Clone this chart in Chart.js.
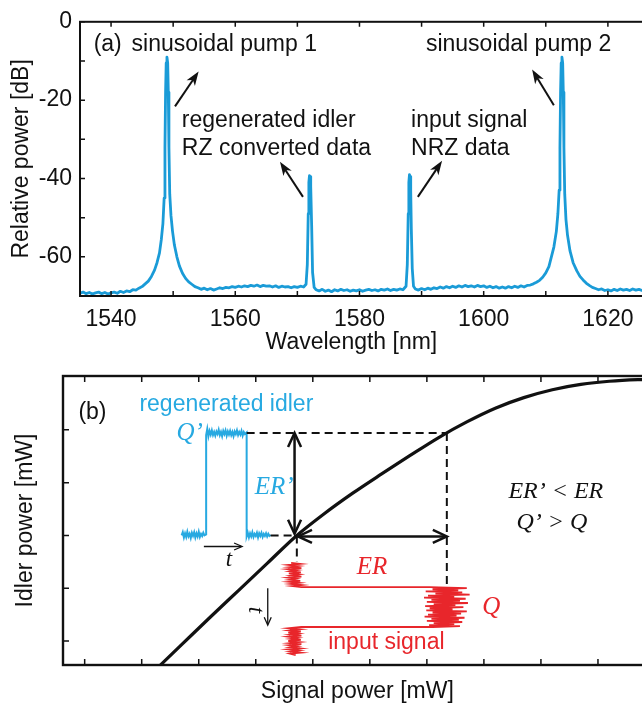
<!DOCTYPE html>
<html><head><meta charset="utf-8">
<script src="https://cdn.jsdelivr.net/npm/chart.js@4"></script>
<style>
html,body{margin:0;padding:0;background:#fff;overflow:hidden;width:642px;height:709px;position:relative;}
canvas{position:absolute;left:0;}
</style></head><body>
<canvas id="ca" width="680" height="360" style="top:0;width:680px;height:360px"></canvas>
<canvas id="cb" width="655" height="349" style="top:360px;width:655px;height:349px"></canvas>
<script>
// ---------- Panel (a) data: optical spectrum ----------
const wavelength = [1535.0,1535.5,1536.0,1536.5,1537.0,1537.5,1538.0,1538.5,1539.0,1539.5,1540.0,1540.5,1541.0,1541.5,1542.0,1542.5,1543.0,1543.5,1544.0,1544.5,1545.0,1545.5,1546.0,1546.5,1547.0,1547.4,1547.8,1548.1,1548.35,1548.55,1548.68,1548.78,1548.88,1549.0,1549.12,1549.22,1549.32,1549.45,1549.65,1549.9,1550.2,1550.6,1551.0,1551.5,1552.0,1552.5,1553.0,1553.5,1554.0,1554.5,1555.0,1555.5,1556.0,1556.5,1557.0,1557.5,1558.0,1558.5,1559.0,1559.5,1560.0,1560.5,1561.0,1561.5,1562.0,1562.5,1563.0,1563.5,1564.0,1564.5,1565.0,1565.5,1566.0,1566.5,1567.0,1567.5,1568.0,1568.5,1569.0,1569.5,1570.0,1570.5,1571.0,1571.4,1571.6,1571.75,1571.85,1571.95,1572.05,1572.15,1572.3,1572.45,1572.7,1573.0,1573.5,1574.0,1574.5,1575.0,1575.5,1576.0,1576.5,1577.0,1577.5,1578.0,1578.5,1579.0,1579.5,1580.0,1580.5,1581.0,1581.5,1582.0,1582.5,1583.0,1583.5,1584.0,1584.5,1585.0,1585.5,1586.0,1586.5,1587.0,1587.5,1587.7,1587.85,1587.95,1588.05,1588.15,1588.25,1588.35,1588.5,1588.7,1589.0,1589.5,1590.0,1590.5,1591.0,1591.5,1592.0,1592.5,1593.0,1593.5,1594.0,1594.5,1595.0,1595.5,1596.0,1596.5,1597.0,1597.5,1598.0,1598.5,1599.0,1599.5,1600.0,1600.5,1601.0,1601.5,1602.0,1602.5,1603.0,1603.5,1604.0,1604.5,1605.0,1605.5,1606.0,1606.5,1607.0,1607.5,1608.0,1608.5,1609.0,1609.5,1610.0,1610.5,1610.9,1611.3,1611.7,1611.95,1612.15,1612.28,1612.38,1612.48,1612.6,1612.72,1612.82,1612.92,1613.05,1613.25,1613.5,1613.9,1614.4,1615.0,1615.5,1616.0,1616.5,1617.0,1617.5,1618.0,1618.5,1619.0,1619.5,1620.0,1620.5,1621.0,1621.5,1622.0,1622.5,1623.0,1623.5,1624.0,1624.5,1625.0,1625.5,1626.0,1626.5];
const relPower = [-69.3,-69.0,-69.4,-69.1,-69.5,-69.2,-69.0,-69.4,-69.1,-69.5,-69.2,-69.0,-69.3,-68.8,-69.1,-68.7,-68.9,-68.4,-68.5,-68.0,-67.6,-66.9,-66.2,-65.0,-63.4,-61.5,-59.0,-55.5,-51.5,-45.0,-32.0,-18.0,-10.5,-9.0,-10.5,-18.0,-32.0,-44.0,-49.5,-53.5,-57.0,-60.0,-62.3,-64.2,-65.5,-66.4,-67.0,-67.6,-67.9,-68.3,-68.0,-68.4,-68.1,-68.5,-68.2,-67.9,-68.1,-67.8,-67.9,-67.6,-67.8,-67.5,-67.7,-67.4,-67.6,-67.3,-67.5,-67.2,-67.6,-67.3,-67.5,-67.4,-67.7,-67.4,-67.8,-67.5,-67.7,-67.6,-67.9,-67.6,-67.8,-67.5,-67.7,-67.0,-62.0,-49.0,-41.0,-39.3,-39.5,-42.0,-52.0,-64.0,-67.8,-68.4,-68.7,-68.3,-68.8,-68.5,-68.9,-68.4,-68.7,-68.3,-68.6,-68.4,-68.8,-68.5,-68.7,-68.4,-68.8,-68.5,-68.3,-68.6,-68.4,-68.7,-68.3,-68.5,-68.2,-68.6,-68.3,-68.5,-68.2,-68.4,-67.5,-62.0,-49.0,-41.0,-39.0,-39.5,-43.0,-53.0,-63.0,-67.5,-68.2,-68.5,-68.1,-68.4,-68.0,-68.3,-67.9,-68.1,-67.7,-68.0,-67.6,-67.9,-67.5,-67.8,-67.4,-67.7,-67.3,-67.6,-67.4,-67.7,-67.3,-67.6,-67.4,-67.8,-67.5,-67.9,-67.6,-68.0,-67.7,-68.0,-67.6,-67.9,-67.5,-67.8,-67.4,-67.7,-67.3,-67.2,-66.9,-66.5,-66.0,-65.2,-64.1,-62.5,-60.0,-57.5,-53.5,-49.0,-43.0,-32.0,-18.0,-10.5,-9.0,-10.5,-18.0,-32.0,-44.0,-50.5,-54.5,-58.5,-61.5,-63.6,-65.0,-65.9,-66.7,-67.3,-67.8,-68.1,-68.4,-68.2,-68.6,-68.4,-68.7,-68.3,-68.6,-68.2,-68.5,-68.3,-68.6,-68.2,-68.5,-68.3,-68.6,-68.4,-68.5];
const aXTicks = [1540,1550,1560,1570,1580,1590,1600,1610,1620,1630];
const aXLabels = [1540,1560,1580,1600,1620];
const aYTicks = [0,-10,-20,-30,-40,-50,-60,-70];
const aYLabels = [0,-20,-40,-60];

// ---------- Panel (b) data: transfer function (arbitrary units) ----------
const bXTicks = [0,1,2,3,4,5,6,7,8,9];
const bYTicks = [0,1,2,3,4];
const signalPower = [1.2,1.7,2.2,2.7,3.2,3.7,4.2,4.7,5.2,5.7,6.2,6.7,7.2,7.7,8.2,8.7,9.2,9.7,10.2];
const idlerPower  = [-0.59,-0.07,0.45,0.96,1.47,1.98,2.41,2.80,3.16,3.51,3.85,4.15,4.41,4.61,4.76,4.86,4.92,4.95,4.96];
// regenerated idler trace (time along x, power along y)
const idlerTraceX = [1.70,1.72,1.74,1.76,1.78,1.80,1.82,1.84,1.86,1.88,1.90,1.92,1.94,1.96,1.98,2.00,2.02,2.04,2.06,2.08,2.10,2.13,2.13,2.15,2.17,2.19,2.21,2.23,2.25,2.27,2.29,2.31,2.33,2.35,2.37,2.39,2.41,2.43,2.45,2.47,2.49,2.51,2.53,2.55,2.57,2.59,2.61,2.63,2.65,2.67,2.69,2.71,2.73,2.75,2.77,2.79,2.81,2.84,2.84,2.86,2.88,2.90,2.92,2.94,2.96,2.98,3.00,3.02,3.04,3.06,3.08,3.10,3.12,3.14,3.16,3.18,3.20,3.22,3.24,3.26];
const idlerTraceY = [2.00,2.06,1.96,2.04,1.97,2.07,1.98,2.03,1.95,2.05,1.99,2.06,1.96,2.04,1.98,2.07,1.97,2.03,1.99,2.05,2.00,2.02,3.90,4.02,3.88,3.98,3.91,3.99,3.90,3.96,3.89,3.97,3.92,4.00,3.90,3.96,3.88,3.98,3.92,3.99,3.89,3.97,3.91,3.98,3.90,3.96,3.88,3.97,3.92,3.99,3.90,3.96,3.91,3.98,3.89,3.96,3.92,3.95,1.98,2.05,1.96,2.04,1.98,2.06,1.97,2.03,1.99,2.05,1.96,2.04,1.99,2.05,1.97,2.03,1.99,2.04,1.98,2.03,1.99,2.01];
// input signal trace (power along x, time along y downward)
const inputTraceX = [3.62,3.78,3.58,3.74,3.60,3.80,3.57,3.72,3.61,3.79,3.58,3.75,3.63,3.80,3.57,3.70,3.60,3.78,3.59,3.76,3.62,3.80,3.64,3.80,6.05,6.70,6.10,6.55,5.98,6.62,6.15,6.75,6.02,6.48,5.95,6.68,6.08,6.58,6.00,6.72,6.12,6.50,5.97,6.64,6.05,6.45,5.99,6.70,6.10,6.60,6.02,6.52,5.96,6.66,6.08,6.56,6.00,6.62,6.12,6.48,6.04,6.58,6.10,3.80,3.58,3.77,3.60,3.79,3.57,3.74,3.61,3.80,3.58,3.73,3.62,3.79,3.57,3.76,3.60,3.80,3.59,3.72,3.61,3.78,3.58,3.75,3.62,3.79,3.60,3.70];
const inputTraceY = [1.48,1.46,1.44,1.42,1.40,1.38,1.36,1.34,1.32,1.30,1.28,1.26,1.24,1.22,1.20,1.18,1.16,1.14,1.12,1.10,1.08,1.06,1.04,1.02,1.02,1.00,0.98,0.96,0.94,0.92,0.90,0.88,0.86,0.84,0.82,0.80,0.78,0.76,0.74,0.72,0.70,0.68,0.66,0.64,0.62,0.60,0.58,0.56,0.54,0.52,0.50,0.48,0.46,0.44,0.42,0.40,0.38,0.36,0.34,0.32,0.30,0.28,0.265,0.265,0.24,0.22,0.20,0.18,0.16,0.14,0.12,0.10,0.08,0.06,0.04,0.02,0.00,-0.02,-0.04,-0.06,-0.08,-0.10,-0.12,-0.14,-0.16,-0.18,-0.20,-0.22,-0.24,-0.27];
// guide lines (dashed)
const guideHighX = [2.84,6.35], guideHighY = [3.94,3.94];
const guideLowX  = [3.26,3.72], guideLowY  = [2.00,2.00];
const guideVHighX = [6.35,6.35], guideVHighY = [3.94,1.02];
const guideVLowX  = [3.72,3.72], guideVLowY  = [2.00,1.50];

const SANS = '"Liberation Sans", Arial, Helvetica, sans-serif';
const SERIF = '"Liberation Serif", "Times New Roman", serif';
const pts = (xs, ys) => xs.map((v, i) => ({x: v, y: ys[i]}));

function framePlugin(id, xt, yt, lw, len) {
  return { id: id, afterDatasetsDraw(chart) {
    const ctx = chart.ctx, a = chart.chartArea, xs = chart.scales.x, ys = chart.scales.y;
    ctx.save();
    ctx.strokeStyle = '#111';
    ctx.lineWidth = 1.5;
    ctx.beginPath();
    xt.forEach(v => { const p = xs.getPixelForValue(v); ctx.moveTo(p, a.bottom); ctx.lineTo(p, a.bottom - len); ctx.moveTo(p, a.top); ctx.lineTo(p, a.top + len); });
    yt.forEach(v => { const p = ys.getPixelForValue(v); ctx.moveTo(a.left, p); ctx.lineTo(a.left + len, p); ctx.moveTo(a.right, p); ctx.lineTo(a.right - len, p); });
    ctx.stroke();
    ctx.lineWidth = lw;
    ctx.strokeRect(a.left, a.top, a.right - a.left, a.bottom - a.top);
    ctx.restore();
  }};
}

function drawArrow(ctx, x1, y1, x2, y2, st, both) {
  const ang = Math.atan2(y2 - y1, x2 - x1);
  const head = (tx, ty, a) => {
    const c = Math.cos(a), s = Math.sin(a);
    const bx = tx - st.len * c, by = ty - st.len * s;
    if (st.filled) {
      const nx = tx - st.len * 0.72 * c, ny = ty - st.len * 0.72 * s;
      ctx.beginPath();
      ctx.moveTo(tx, ty);
      ctx.lineTo(bx - st.wid / 2 * s, by + st.wid / 2 * c);
      ctx.lineTo(nx, ny);
      ctx.lineTo(bx + st.wid / 2 * s, by - st.wid / 2 * c);
      ctx.closePath();
      ctx.fill();
    } else {
      ctx.beginPath();
      ctx.moveTo(bx - st.wid / 2 * s, by + st.wid / 2 * c);
      ctx.lineTo(tx, ty);
      ctx.lineTo(bx + st.wid / 2 * s, by - st.wid / 2 * c);
      ctx.stroke();
    }
  };
  ctx.lineWidth = st.lw;
  ctx.beginPath();
  const back = st.filled ? st.len * 0.6 : 1;
  const sx = both ? x1 + back * Math.cos(ang) : x1, sy = both ? y1 + back * Math.sin(ang) : y1;
  ctx.moveTo(sx, sy);
  ctx.lineTo(x2 - back * Math.cos(ang), y2 - back * Math.sin(ang));
  ctx.stroke();
  head(x2, y2, ang);
  if (both) head(x1, y1, ang + Math.PI);
}

function notesPlugin(id, texts, arrows) {
  return { id: id, afterDraw(chart) {
    const ctx = chart.ctx, xs = chart.scales.x, ys = chart.scales.y;
    ctx.save();
    ctx.lineJoin = 'miter';
    arrows.forEach(a => {
      ctx.strokeStyle = a.color; ctx.fillStyle = a.color;
      drawArrow(ctx, xs.getPixelForValue(a.x1), ys.getPixelForValue(a.y1), xs.getPixelForValue(a.x2), ys.getPixelForValue(a.y2), a.style, a.both);
    });
    texts.forEach(t => {
      ctx.save();
      ctx.font = t.font; ctx.fillStyle = t.color;
      ctx.textAlign = t.align || 'left'; ctx.textBaseline = 'middle';
      ctx.translate(xs.getPixelForValue(t.x) + (t.dx || 0), ys.getPixelForValue(t.y) + (t.dy || 0));
      if (t.rot) ctx.rotate(t.rot);
      ctx.fillText(t.text, 0, 0);
      ctx.restore();
    });
    ctx.restore();
  }};
}

// ---------- Chart (a) ----------
const headA = {filled: true, len: 14, wid: 10, lw: 2};
const textsA = [
  {text: '(a)', x: 1537.2, y: -5.8, font: '23px ' + SANS, color: '#111'},
  {text: 'sinusoidal pump 1', x: 1543.3, y: -5.8, font: '23px ' + SANS, color: '#111'},
  {text: 'sinusoidal pump 2', x: 1590.7, y: -5.8, font: '23px ' + SANS, color: '#111'},
  {text: 'regenerated idler', x: 1551.4, y: -25.3, font: '23px ' + SANS, color: '#111'},
  {text: 'RZ converted data', x: 1551.4, y: -32.3, font: '23px ' + SANS, color: '#111'},
  {text: 'input signal', x: 1588.3, y: -25.3, font: '23px ' + SANS, color: '#111'},
  {text: 'NRZ data', x: 1588.3, y: -32.3, font: '23px ' + SANS, color: '#111'},
  {text: 'Wavelength [nm]', x: 1578.7, y: -70, dy: 47, align: 'center', font: '23px ' + SANS, color: '#111'}
];
const arrowsA = [
  {x1: 1550.3, y1: -21.6, x2: 1554.1, y2: -12.7, style: headA, color: '#111'},
  {x1: 1611.3, y1: -21.3, x2: 1607.8, y2: -12.2, style: headA, color: '#111'},
  {x1: 1570.9, y1: -44.7, x2: 1567.2, y2: -35.7, style: headA, color: '#111'},
  {x1: 1589.4, y1: -44.7, x2: 1593.3, y2: -35.5, style: headA, color: '#111'}
];

new Chart(document.getElementById('ca'), {
  type: 'scatter',
  data: { datasets: [{
    data: pts(wavelength, relPower), showLine: true, borderColor: '#1a9bd7', borderWidth: 2.8,
    borderJoinStyle: 'round', borderCapStyle: 'round',
    pointRadius: 0, tension: 0, fill: false
  }]},
  options: {
    responsive: false, animation: false, devicePixelRatio: 1,
    layout: {padding: {top: 14, left: 0, right: 0, bottom: 0}},
    plugins: {legend: {display: false}, tooltip: {enabled: false}},
    scales: {
      x: {
        type: 'linear', min: 1535, max: 1630,
        grid: {display: false, drawTicks: false}, border: {display: false},
        afterBuildTicks: s => { s.ticks = aXTicks.map(v => ({value: v})); },
        afterFit: s => { s.height = 64; },
        ticks: {autoSkip: false, maxRotation: 0, padding: 10, color: '#111',
          font: {family: SANS, size: 23}, callback: v => aXLabels.includes(v) ? String(v) : ''}
      },
      y: {
        type: 'linear', min: -70, max: 0,
        grid: {display: false, drawTicks: false}, border: {display: false},
        afterBuildTicks: s => { s.ticks = aYTicks.map(v => ({value: v})); },
        afterFit: s => { s.width = 80; },
        ticks: {autoSkip: false, padding: 8, color: '#111',
          font: {family: SANS, size: 23}, callback: v => aYLabels.includes(v) ? String(v) : ''},
        title: {display: true, text: 'Relative power [dB]', color: '#111',
          font: {family: SANS, size: 23}, padding: {top: 8, bottom: 0}}
      }
    }
  },
  plugins: [framePlugin('frameA', aXTicks, aYTicks, 2, 5), notesPlugin('notesA', textsA, arrowsA)]
});

// ---------- Chart (b) ----------
const BLUE = '#27a9e1', RED = '#e8262b';
const headBig = {filled: false, len: 14, wid: 13, lw: 2.5};
const headSmall = {filled: false, len: 8, wid: 7, lw: 1.3};
const textsB = [
  {text: '(b)', x: -0.11, y: 4.32, font: '23px ' + SANS, color: '#111'},
  {text: 'regenerated idler', x: 0.96, y: 4.47, font: '23px ' + SANS, color: BLUE},
  {text: 'Q\u2019', x: 1.61, y: 3.93, font: 'italic 25px ' + SERIF, color: BLUE},
  {text: 'ER\u2019', x: 2.98, y: 2.90, font: 'italic 25px ' + SERIF, color: BLUE},
  {text: 't', x: 2.53, y: 1.54, align: 'center', font: 'italic 23px ' + SERIF, color: '#111'},
  {text: 't', x: 2.99, y: 0.59, align: 'center', rot: Math.PI / 2, font: 'italic 23px ' + SERIF, color: '#111'},
  {text: 'ER', x: 4.77, y: 1.40, font: 'italic 25px ' + SERIF, color: RED},
  {text: 'Q', x: 6.97, y: 0.63, font: 'italic 25px ' + SERIF, color: RED},
  {text: 'input signal', x: 4.27, y: -0.04, font: '23px ' + SANS, color: RED},
  {text: 'ER\u2019 < ER', x: 7.43, y: 2.82, font: 'italic 24px ' + SERIF, color: '#111'},
  {text: 'Q\u2019 > Q', x: 7.57, y: 2.24, font: 'italic 24px ' + SERIF, color: '#111'},
  {text: 'Signal power [mW]', x: 4.78, y: -0.455, dy: 27, align: 'center', font: '23px ' + SANS, color: '#111'}
];
const arrowsB = [
  {x1: 3.68, y1: 3.94, x2: 3.68, y2: 2.03, style: headBig, color: '#111', both: true},
  {x1: 3.74, y1: 1.98, x2: 6.35, y2: 1.98, style: headBig, color: '#111', both: true},
  {x1: 2.09, y1: 1.79, x2: 2.76, y2: 1.79, style: headSmall, color: '#111'},
  {x1: 3.21, y1: 1.00, x2: 3.21, y2: 0.30, style: headSmall, color: '#111'}
];
const dashStyle = {borderColor: '#111', borderWidth: 2, borderDash: [8, 5], pointRadius: 0, showLine: true, tension: 0, fill: false};

new Chart(document.getElementById('cb'), {
  type: 'scatter',
  data: { datasets: [
    Object.assign({data: pts(guideHighX, guideHighY)}, dashStyle),
    Object.assign({data: pts(guideLowX, guideLowY)}, dashStyle),
    Object.assign({data: pts(guideVHighX, guideVHighY)}, dashStyle),
    Object.assign({data: pts(guideVLowX, guideVLowY)}, dashStyle),
    {data: pts(idlerTraceX, idlerTraceY), showLine: true, borderColor: BLUE, borderWidth: 2, pointRadius: 0, tension: 0, fill: false},
    {data: pts(inputTraceX, inputTraceY), showLine: true, borderColor: RED, borderWidth: 1.8, pointRadius: 0, tension: 0, fill: false},
    {data: pts(signalPower, idlerPower), showLine: true, borderColor: '#111', borderWidth: 3.2, pointRadius: 0, tension: 0, cubicInterpolationMode: 'monotone', fill: false}
  ]},
  options: {
    responsive: false, animation: false, devicePixelRatio: 1,
    layout: {padding: {top: 16, left: 0, right: 0, bottom: 0}},
    plugins: {legend: {display: false}, tooltip: {enabled: false}},
    scales: {
      x: {
        type: 'linear', min: -0.38, max: 10,
        grid: {display: false, drawTicks: false}, border: {display: false},
        ticks: {display: false},
        afterFit: s => { s.height = 44; }
      },
      y: {
        type: 'linear', min: -0.455, max: 5.02,
        grid: {display: false, drawTicks: false}, border: {display: false},
        ticks: {display: false},
        afterFit: s => { s.width = 63; },
        title: {display: true, text: 'Idler power [mW]', color: '#111',
          font: {family: SANS, size: 23}, padding: {top: 12, bottom: 0}}
      }
    }
  },
  plugins: [framePlugin('frameB', bXTicks, bYTicks, 2.4, 6), notesPlugin('notesB', textsB, arrowsB)]
});
</script>
</body></html>
